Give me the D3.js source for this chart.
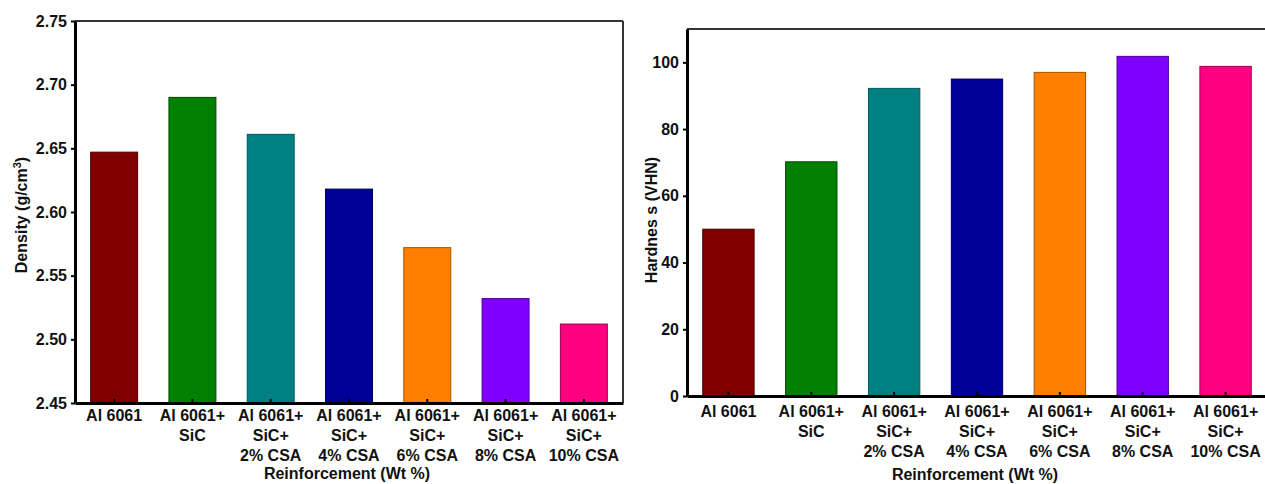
<!DOCTYPE html>
<html>
<head>
<meta charset="utf-8">
<script src="https://cdn.jsdelivr.net/npm/d3@7"></script>
<style>
  body { margin: 0; background: #fff; }
  text { font-family: "Liberation Sans", Arial, sans-serif; font-weight: bold; fill: #111; }
</style>
</head>
<body>
<div class="container"></div>
<script>
const WIDTH = 1265;
const HEIGHT = 484;

// data
var categories = [
  ["Al 6061"],
  ["Al 6061+", "SiC"],
  ["Al 6061+", "SiC+", "2% CSA"],
  ["Al 6061+", "SiC+", "4% CSA"],
  ["Al 6061+", "SiC+", "6% CSA"],
  ["Al 6061+", "SiC+", "8% CSA"],
  ["Al 6061+", "SiC+", "10% CSA"]
];
var density = [2.647, 2.690, 2.661, 2.618, 2.572, 2.532, 2.512];
var hardness = [50, 70.2, 92.2, 95, 97, 101.8, 98.8];
var densityTicks = [2.45, 2.50, 2.55, 2.60, 2.65, 2.70, 2.75];
var hardnessTicks = [0, 20, 40, 60, 80, 100];
var barColors = ["#800000", "#008000", "#008080", "#000099", "#ff8000", "#8000ff", "#ff0080"];
var barEdges = ["#4a0000", "#004a00", "#005a5a", "#00005a", "#a05000", "#4a0099", "#99004d"];

var svg;

var loadCharts = function(){
  svg = d3.select(".container").append("svg")
      .attr("width", WIDTH)
      .attr("height", HEIGHT);

  drawPanel({
    values: density,
    ticks: densityTicks,
    format: d3.format(".2f"),
    yDomain: [2.45, 2.75],
    left: 75, right: 623, top: 21, bottom: 403,
    padding: 0.4,
    labelBase: 421, lineGap: 20, titleY: 479,
    yTitleX: 27, yTitleY: 215,
    yTitle: "density"
  });

  drawPanel({
    values: hardness,
    ticks: hardnessTicks,
    format: d3.format("d"),
    yDomain: [0, 110],
    left: 687, right: 1267, top: 29, bottom: 396,
    padding: 0.38,
    labelBase: 417, lineGap: 20, titleY: 480,
    yTitleX: 657, yTitleY: 220,
    yTitle: "hardness"
  });
}

var drawPanel = function(o){
  var x = d3.scaleBand()
      .domain(d3.range(categories.length))
      .range([o.left, o.right])
      .paddingInner(o.padding)
      .paddingOuter(o.padding / 2);

  var y = d3.scaleLinear()
      .domain(o.yDomain)
      .range([o.bottom, o.top]);

  var g = svg.append("g");

  // bars
  g.selectAll("rect.bar")
    .data(o.values)
    .enter().append("rect")
      .classed("bar", true)
      .attr("x", (d, i) => x(i))
      .attr("y", d => y(d))
      .attr("width", x.bandwidth())
      .attr("height", d => o.bottom - y(d))
      .attr("fill", (d, i) => barColors[i])
      .attr("stroke", (d, i) => barEdges[i])
      .attr("stroke-width", 1);

  // top and right frame
  g.append("line")
    .attr("x1", o.left).attr("x2", o.right)
    .attr("y1", o.top).attr("y2", o.top)
    .attr("stroke", "#333").attr("stroke-width", 2);
  g.append("line")
    .attr("x1", o.right).attr("x2", o.right)
    .attr("y1", o.top).attr("y2", o.bottom)
    .attr("stroke", "#333").attr("stroke-width", 2);

  // y axis
  var yAxis = g.append("g")
      .attr("transform", "translate(" + o.left + ",0)")
      .call(d3.axisLeft(y).tickValues(o.ticks).tickFormat(o.format)
            .tickSize(4).tickSizeOuter(0).tickPadding(4));
  yAxis.select(".domain").attr("stroke", "#000").attr("stroke-width", 3);
  yAxis.selectAll(".tick line").attr("stroke", "#000").attr("stroke-width", 2);
  yAxis.selectAll(".tick text")
    .style("font-size", "16px")
    .attr("fill", "#222");

  // x axis
  var xAxis = g.append("g")
      .attr("transform", "translate(0," + o.bottom + ")")
      .call(d3.axisBottom(x).tickSize(-4).tickSizeOuter(0).tickFormat(""));
  xAxis.select(".domain").attr("stroke", "#000").attr("stroke-width", 3);
  xAxis.selectAll(".tick line").attr("stroke", "#000").attr("stroke-width", 2);

  // multi-line category labels
  var labels = g.selectAll("text.cat")
    .data(categories)
    .enter().append("text")
      .classed("cat", true)
      .attr("text-anchor", "middle")
      .style("font-size", "16px")
      .attr("fill", "#222");
  labels.each(function(lines, i){
    d3.select(this).selectAll("tspan")
      .data(lines)
      .enter().append("tspan")
        .attr("x", x(i) + x.bandwidth() / 2)
        .attr("y", (d, j) => o.labelBase + j * o.lineGap)
        .text(d => d);
  });

  // x title
  g.append("text")
    .attr("x", (o.left + o.right) / 2 - 2)
    .attr("y", o.titleY)
    .attr("text-anchor", "middle")
    .style("font-size", "16px")
    .attr("fill", "#222")
    .text("Reinforcement (Wt %)");

  // y title
  var yt = g.append("text")
    .attr("transform", "translate(" + o.yTitleX + "," + o.yTitleY + ") rotate(-90)")
    .attr("text-anchor", "middle")
    .style("font-size", "16px")
    .attr("fill", "#222");
  if (o.yTitle === "density") {
    yt.append("tspan").text("Density (g/cm");
    yt.append("tspan").attr("dy", -6).style("font-size", "11px").text("3");
    yt.append("tspan").attr("dy", 6).text(")");
  } else {
    yt.text("Hardnes s (VHN)");
  }
}

window.onload = loadCharts;
</script>
</body>
</html>
